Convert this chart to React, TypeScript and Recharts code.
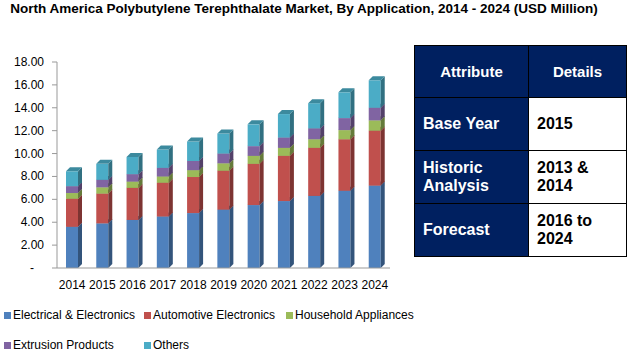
import { BarChart, Bar, XAxis, YAxis } from 'recharts';

const years = ['2014', '2015', '2016', '2017', '2018', '2019', '2020', '2021', '2022', '2023', '2024'];
const electrical = [3.6, 3.9, 4.2, 4.5, 4.8, 5.1, 5.5, 5.85, 6.3, 6.75, 7.2];
const automotive = [2.45, 2.6, 2.8, 2.95, 3.15, 3.4, 3.6, 3.95, 4.2, 4.5, 4.8];
const household = [0.5, 0.55, 0.55, 0.55, 0.6, 0.65, 0.7, 0.7, 0.75, 0.8, 0.9];
const extrusion = [0.6, 0.65, 0.65, 0.75, 0.8, 0.85, 0.85, 0.9, 0.95, 1.05, 1.1];
const others = [1.3, 1.4, 1.5, 1.6, 1.7, 1.75, 1.9, 2.05, 2.2, 2.25, 2.4];
const yTicks = [0, 2, 4, 6, 8, 10, 12, 14, 16, 18];

const series = [
  { key: 'electrical', name: 'Electrical & Electronics', color: '#4F81BD' },
  { key: 'automotive', name: 'Automotive Electronics', color: '#C0504D' },
  { key: 'household', name: 'Household Appliances', color: '#9BBB59' },
  { key: 'extrusion', name: 'Extrusion Products', color: '#8064A2' },
  { key: 'others', name: 'Others', color: '#4BACC6' },
];

const data = years.map((year, i) => ({
  year,
  electrical: electrical[i],
  automotive: automotive[i],
  household: household[i],
  extrusion: extrusion[i],
  others: others[i],
}));

const tableRows = [
  ['Base Year', '2015'],
  ['Historic Analysis', '2013 & 2014'],
  ['Forecast', '2016 to 2024'],
];

const font = '"Liberation Sans", Arial, sans-serif';

function shade(hex: string, f: number) {
  const n = parseInt(hex.slice(1), 16);
  const ch = [(n >> 16) & 255, (n >> 8) & 255, n & 255].map((c) =>
    Math.round(f < 1 ? c * f : c + (255 - c) * (f - 1))
  );
  return `rgb(${ch.join(',')})`;
}

function Bar3D(props: any) {
  const { x, y, width, height, fill } = props;
  if (!height) return null;
  const d = 4;
  return (
    <g>
      <rect x={x} y={y} width={width} height={height} fill={fill} />
      <polygon
        points={`${x + width},${y} ${x + width + d},${y - d} ${x + width + d},${y + height - d} ${x + width},${y + height}`}
        fill={shade(fill, 0.65)}
      />
      <polygon
        points={`${x},${y} ${x + d},${y - d} ${x + width + d},${y - d} ${x + width},${y}`}
        fill={shade(fill, 0.8)}
      />
    </g>
  );
}

function YTick(props: any) {
  const { x, y, payload } = props;
  const v = payload.value;
  return (
    <text x={v === 0 ? x - 10 : x} y={y} dy={4} textAnchor="end" fontSize={12} fontFamily={font} fill="#000">
      {v === 0 ? '-' : v.toFixed(2)}
    </text>
  );
}

const cell = { border: '1px solid #000', padding: '0 8px' };

export default function App() {
  return (
    <div style={{ position: 'absolute', left: 0, top: 0, width: 637, height: 356, background: '#fff', fontFamily: font }}>
      <div style={{ position: 'absolute', left: 0, top: 1, width: 608, textAlign: 'center', fontWeight: 'bold', fontSize: 13.5, whiteSpace: 'nowrap' }}>
        North America Polybutylene Terephthalate Market, By Application, 2014 - 2024 (USD Million)
      </div>
      <div style={{ position: 'absolute', left: 0, top: 0 }}>
        <BarChart width={400} height={300} data={data} margin={{ top: 62, right: 10, bottom: 12, left: 0 }} barSize={12}>
          <XAxis
            dataKey="year"
            interval={0}
            tickLine={false}
            axisLine={{ stroke: '#999' }}
            tick={{ fontSize: 12, fill: '#000', fontFamily: font }}
            height={20}
            tickMargin={6}
          />
          <YAxis
            domain={[0, 18]}
            ticks={yTicks}
            interval={0}
            width={57}
            tickSize={5}
            tickMargin={8}
            axisLine={{ stroke: '#999' }}
            tickLine={{ stroke: '#999' }}
            tick={<YTick />}
          />
          {series.map((s) => (
            <Bar key={s.key} dataKey={s.key} name={s.name} stackId="a" fill={s.color} shape={<Bar3D />} isAnimationActive={false} />
          ))}
        </BarChart>
      </div>
      <div style={{ position: 'absolute', left: 0, top: 306, width: 430, fontSize: 12, color: '#000' }}>
        {series.map((s, i) => (
          <div
            key={s.key}
            style={{
              position: 'absolute',
              left: [4, 144, 286, 4, 144][i],
              top: i < 3 ? 2 : 32,
              whiteSpace: 'nowrap',
              display: 'flex',
              alignItems: 'center',
            }}
          >
            <span style={{ display: 'inline-block', width: 7, height: 7, background: s.color, marginRight: 2 }} />
            {s.name}
          </div>
        ))}
      </div>
      <table
        style={{
          position: 'absolute',
          left: 414,
          top: 45,
          width: 212,
          height: 211,
          borderCollapse: 'collapse',
          tableLayout: 'fixed',
          fontWeight: 'bold',
          fontFamily: font,
        }}
      >
        <colgroup>
          <col style={{ width: 114 }} />
          <col style={{ width: 98 }} />
        </colgroup>
        <tbody>
          <tr style={{ height: 52, background: '#002060', color: '#fff', fontSize: 15 }}>
            <td style={{ ...cell, textAlign: 'center' }}>Attribute</td>
            <td style={{ ...cell, textAlign: 'center' }}>Details</td>
          </tr>
          {tableRows.map((r) => (
            <tr key={r[0]} style={{ height: 53, fontSize: 16, lineHeight: '18px' }}>
              <td style={{ ...cell, background: '#002060', color: '#fff' }}>{r[0]}</td>
              <td style={{ ...cell, background: '#fff', color: '#000' }}>{r[1]}</td>
            </tr>
          ))}
        </tbody>
      </table>
    </div>
  );
}
